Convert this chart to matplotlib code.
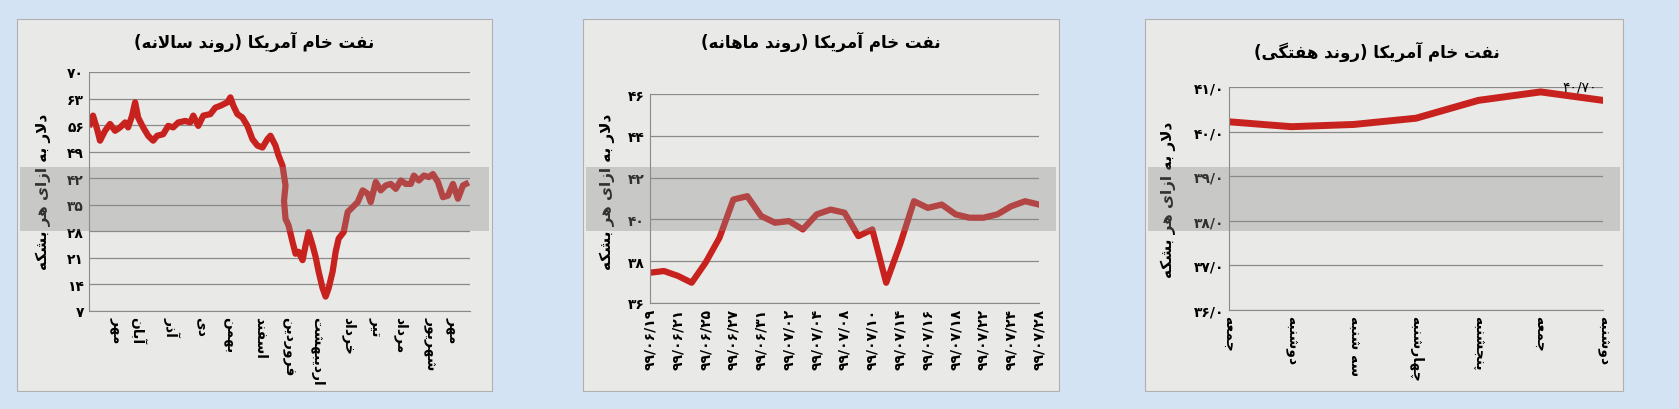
import matplotlib.pyplot as plt
from matplotlib.patches import Rectangle

plt.rcParams['font.family'] = ['DejaVu Sans']

# ---------- simple Arabic/Persian shaping for display ----------
DUAL = {'ب': 0xFE8F, 'ت': 0xFE95, 'ث': 0xFE99, 'ج': 0xFE9D, 'ح': 0xFEA1, 'خ': 0xFEA5,
        'س': 0xFEB1, 'ش': 0xFEB5, 'ص': 0xFEB9, 'ض': 0xFEBD, 'ط': 0xFEC1, 'ظ': 0xFEC5,
        'ع': 0xFEC9, 'غ': 0xFECD, 'ف': 0xFED1, 'ق': 0xFED5, 'ل': 0xFEDD, 'م': 0xFEE1,
        'ن': 0xFEE5, 'ه': 0xFEE9, 'پ': 0xFB56, 'چ': 0xFB7A, 'ک': 0xFB8E, 'گ': 0xFB92,
        'ی': 0xFBFC}
RIGHT = {'ا': 0xFE8D, 'آ': 0xFE81, 'د': 0xFEA9, 'ذ': 0xFEAB, 'ر': 0xFEAD, 'ز': 0xFEAF,
         'و': 0xFEED, 'ژ': 0xFB8A}
MIRROR = {'(': ')', ')': '('}


def fa(s):
    s = s.replace('لا', '\uFEFB')
    out = []
    for i, c in enumerate(s):
        prev = s[i - 1] if i > 0 else ''
        nxt = s[i + 1] if i + 1 < len(s) else ''
        if c == '\uFEFB':
            out.append('\uFEFC' if prev in DUAL else c)
            continue
        jp = prev in DUAL
        jn = c in DUAL and (nxt in DUAL or nxt in RIGHT or nxt == '\uFEFB')
        if c in DUAL:
            off = 3 if (jp and jn) else 1 if jp else 2 if jn else 0
            out.append(chr(DUAL[c] + off))
        elif c in RIGHT:
            out.append(chr(RIGHT[c] + (1 if jp else 0)))
        else:
            out.append(MIRROR.get(c, c))
    return ''.join(reversed(out))


def fd(s):
    return s.translate(str.maketrans('0123456789', '۰۱۲۳۴۵۶۷۸۹'))


# ---------- data ----------
yl = 'دلار به ازای هر بشکه'

# yearly (x = approx day)
y_day = [0, 3, 7, 10, 15, 20, 25, 30, 35, 38, 42, 45, 48, 53, 58, 63, 67, 73, 78, 83, 88,
         95, 100, 103, 108, 113, 120, 125, 130, 137, 140, 143, 147, 152, 157, 162, 167, 172,
         177, 180, 185, 188, 192, 195, 193.5, 195, 198, 202, 205, 208, 212, 215, 218, 222,
         225, 228, 232, 235, 238, 242, 245, 248, 253, 257, 262, 267, 272, 277, 280, 285,
         290, 295, 300, 305, 310, 315, 320, 323, 328, 333, 338, 342, 347, 352, 357, 362,
         367, 372, 375]
y_val = [56.3, 58.5, 55, 51.9, 54.5, 56.3, 54.5, 55.4, 56.7, 55.4, 58.5, 62, 58, 55.4, 53.2,
         51.9, 53.2, 53.6, 55.8, 55.4, 56.7, 57.1, 56.7, 58.5, 55.8, 58.5, 58.9, 60.6, 61.1,
         62, 63.3, 61.1, 58.9, 58, 55.8, 52.3, 50.6, 50.1, 52.3, 53.2, 50.6, 48, 45.3, 40.1,
         36, 31.3, 29.6, 25.2, 22.1, 22.6, 20.4, 24.3, 27.8, 24.3, 21.3, 17.4, 13, 10.8, 13,
         17.4, 22.6, 26.1, 27.8, 33.1, 34.4, 35.7, 38.8, 37.9, 35.7, 41, 38.8, 40.1, 40.5,
         39.2, 41.4, 40.5, 40.5, 42.7, 41.4, 42.7, 42.3, 43.1, 41, 37, 37.4, 40.5, 36.6,
         40.1, 40.5]
y_months = ['مهر', 'آبان', 'آذر', 'دی', 'بهمن', 'اسفند', 'فروردین', 'اردیبهشت',
            'خرداد', 'تیر', 'مرداد', 'شهریور', 'مهر']
y_mpos = [27, 47, 82, 112, 140, 170, 198, 227, 258, 285, 310, 340, 363]

# monthly
m_val = [37.45, 37.53, 37.3, 36.97, 37.93, 39.12, 40.95, 41.11, 40.16, 39.84, 39.92, 39.52,
         40.24, 40.47, 40.32, 39.2, 39.52, 36.97, 38.8, 40.87, 40.55, 40.71, 40.24, 40.08,
         40.08, 40.24, 40.63, 40.87, 40.71]
m_dates = ['99/06/19', '99/06/21', '99/06/25', '99/06/27', '99/06/31', '99/07/02',
           '99/07/04', '99/07/08', '99/07/10', '99/07/14', '99/07/16', '99/07/18',
           '99/07/22', '99/07/24', '99/07/28']

# weekly
w_days = ['جمعه', 'دوشنبه', 'سه شنبه', 'چهارشنبه', 'پنجشنبه', 'جمعه', 'دوشنبه']
w_val = [40.22, 40.11, 40.16, 40.3, 40.7, 40.89, 40.7]

RED = '#c8221f'
BG = '#d4e3f3'
PANEL = '#e9e9e7'
W, H = 1679, 410

fig = plt.figure(figsize=(W / 100, H / 100), dpi=100, facecolor=BG)


def box(x0, x1):
    fig.patches.append(Rectangle((x0 / W, 1 - 392 / H), (x1 - x0) / W, 372 / H,
                                 transform=fig.transFigure, facecolor=PANEL,
                                 edgecolor='#b0b0b0', lw=0.8, zorder=-5))


def band(x0, x1):
    fig.patches.append(Rectangle((x0 / W, 1 - 232 / H), (x1 - x0) / W, 64 / H,
                                 transform=fig.transFigure, facecolor='#8c8c8c',
                                 alpha=0.35, edgecolor='none', zorder=10))


def mkax(x0, x1, ytop, ybot):
    ax = fig.add_axes([x0 / W, 1 - ybot / H, (x1 - x0) / W, (ybot - ytop) / H])
    ax.set_zorder(2)
    ax.set_facecolor('none')
    for s in ('top', 'right'):
        ax.spines[s].set_visible(False)
    for s in ('left', 'bottom'):
        ax.spines[s].set_color('#8a8a8a')
    ax.grid(axis='y', color='#8a8a8a', lw=0.9)
    ax.set_axisbelow(True)
    ax.tick_params(length=0, labelsize=10)
    return ax


for x0, x1 in [(17, 492), (583, 1059), (1145, 1623)]:
    box(x0, x1)

# panel 1
ax1 = mkax(89, 470, 73, 312)
ax1.plot(y_day, y_val, color=RED, lw=4.5)
ax1.set_xlim(-1, 379)
ax1.set_ylim(7, 70)
ax1.set_yticks(range(7, 71, 7))
ax1.set_yticklabels([fd(str(v)) for v in range(7, 71, 7)], fontweight='bold')
ax1.set_xticks(y_mpos)
ax1.set_xticklabels([fa(m) for m in y_months], rotation=-90, fontweight='bold', fontsize=10)
fig.text(254 / W, 1 - 42 / H, fa('نفت خام آمریکا (روند سالانه)'), ha='center', va='center',
         fontsize=12, fontweight='bold')
fig.text(43 / W, 1 - 192 / H, fa(yl), rotation=90, ha='center', va='center',
         fontsize=11, fontweight='bold')

# panel 2
ax2 = mkax(650, 1039, 95, 304)
ax2.plot(range(len(m_val)), m_val, color=RED, lw=4.5)
ax2.set_xlim(0, 28)
ax2.set_ylim(36, 46)
ax2.set_yticks(range(36, 47, 2))
ax2.set_yticklabels([fd(str(v)) for v in range(36, 47, 2)], fontweight='bold')
ax2.set_xticks(range(0, 29, 2))
ax2.set_xticklabels([fd(d) for d in m_dates], rotation=90, fontweight='bold', fontsize=10)
fig.text(821 / W, 1 - 42 / H, fa('نفت خام آمریکا (روند ماهانه)'), ha='center', va='center',
         fontsize=12, fontweight='bold')
fig.text(607 / W, 1 - 192 / H, fa(yl), rotation=90, ha='center', va='center',
         fontsize=11, fontweight='bold')

# panel 3
ax3 = mkax(1229, 1603, 88, 311)
ax3.plot(range(len(w_val)), w_val, color=RED, lw=5)
ax3.set_xlim(0, 6)
ax3.set_ylim(36, 41)
ax3.set_yticks(range(36, 42))
ax3.set_yticklabels([fd(f'{v}/0') for v in range(36, 42)], fontweight='bold')
ax3.set_xticks(range(len(w_days)))
ax3.set_xticklabels([fa(d) for d in w_days], rotation=-90, fontweight='bold', fontsize=10)
ax3.text(5.9, 41.0, fd('40/70'), ha='right', va='center', fontsize=10)
fig.text(1377 / W, 1 - 52 / H, fa('نفت خام آمریکا (روند هفتگی)'), ha='center', va='center',
         fontsize=12, fontweight='bold')
fig.text(1168 / W, 1 - 200 / H, fa(yl), rotation=90, ha='center', va='center',
         fontsize=11, fontweight='bold')

for x0, x1 in [(20, 489), (586, 1056), (1148, 1620)]:
    band(x0, x1)

fig.savefig('out.png', dpi=100, facecolor=BG)
